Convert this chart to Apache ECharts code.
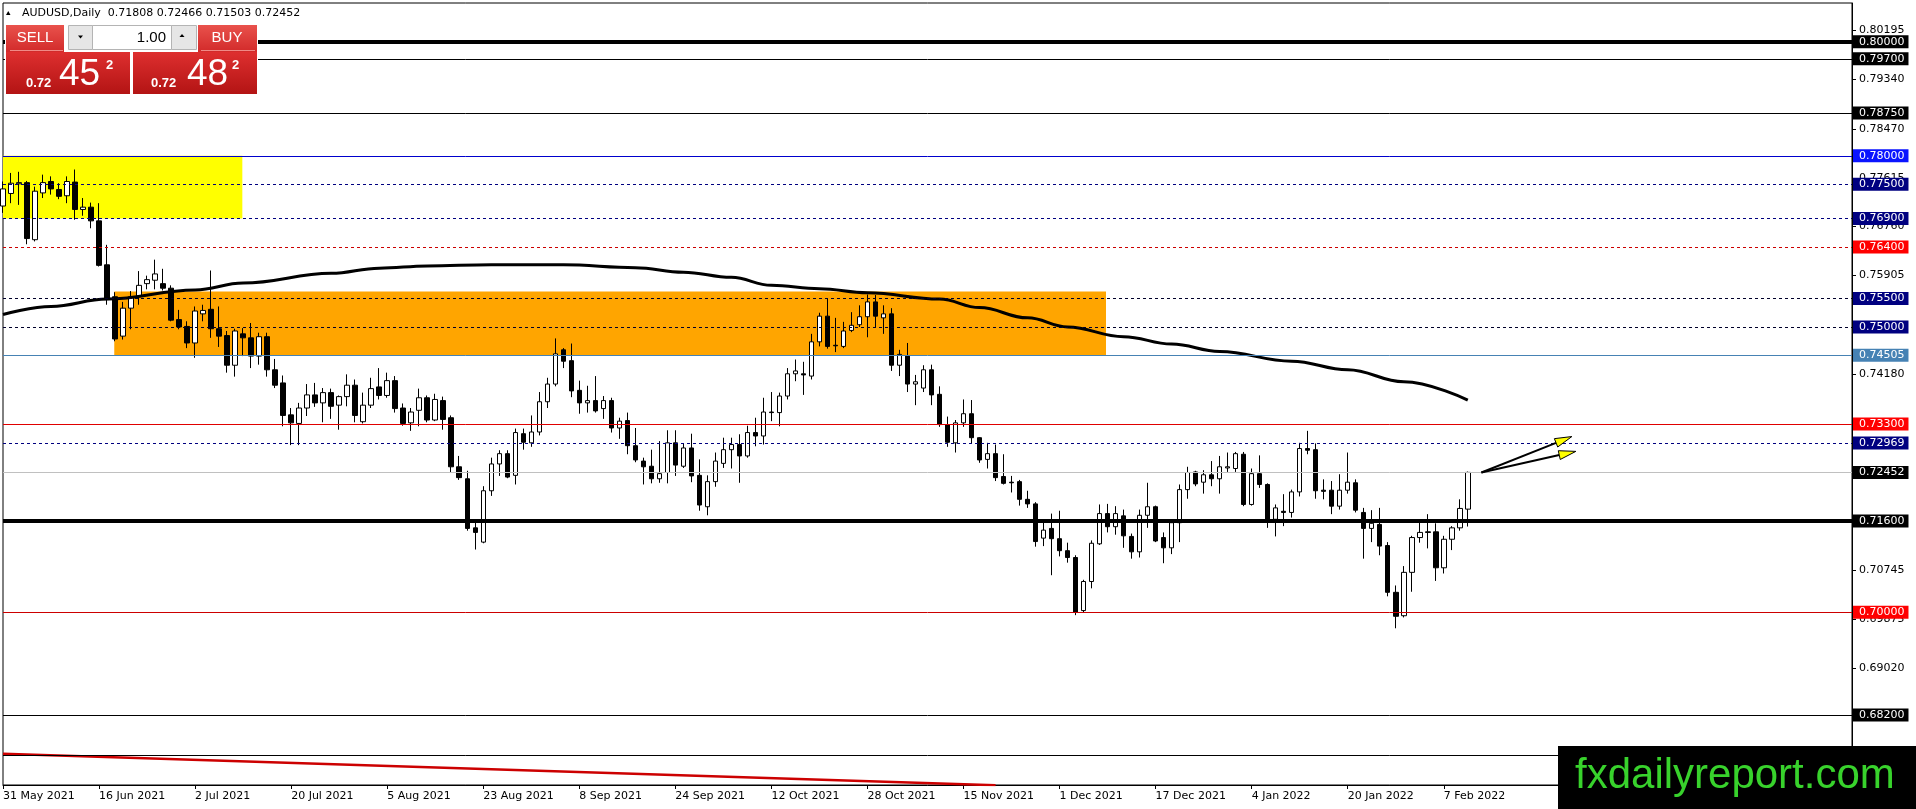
<!DOCTYPE html>
<html><head><meta charset="utf-8">
<script src="https://cdn.jsdelivr.net/npm/echarts@6/dist/echarts.min.js"></script>
<style>html,body{margin:0;padding:0;background:#fff}#c{width:1916px;height:809px}</style>
</head><body><div id="c"></div>
<script>
// ---- data ----
const dateLabels = ['31 May 2021','16 Jun 2021','2 Jul 2021','20 Jul 2021','5 Aug 2021','23 Aug 2021','8 Sep 2021','24 Sep 2021','12 Oct 2021','28 Oct 2021','15 Nov 2021','1 Dec 2021','17 Dec 2021','4 Jan 2022','20 Jan 2022','7 Feb 2022'];
const opens = [
0.7712,0.7734,0.7751,0.7753,0.7653,0.7735,0.7755,0.7741,0.7730,0.7754,
0.7706,0.7710,0.7686,0.7609,0.7553,0.7484,0.7533,0.7554,0.7576,0.7582,
0.7576,0.7568,0.7513,0.7501,0.7472,0.7523,0.7531,0.7497,0.7485,0.7433,
0.7488,0.7481,0.7449,0.7483,0.7425,0.7402,0.7346,0.7331,0.7358,0.7381,
0.7367,0.7385,0.7363,0.7378,0.7398,0.7334,0.7363,0.7395,0.7380,0.7406,
0.7358,0.7332,0.7354,0.7376,0.7337,0.7371,0.7341,0.7255,0.7234,0.7148,
0.7123,0.7213,0.7260,0.7278,0.7240,0.7313,0.7297,0.7316,0.7369,0.7400,
0.7460,0.7441,0.7389,0.7367,0.7371,0.7357,0.7371,0.7323,0.7336,0.7292,
0.7265,0.7256,0.7234,0.7245,0.7297,0.7256,0.7288,0.7240,0.7185,0.7229,
0.7261,0.7285,0.7294,0.7274,0.7315,0.7309,0.7351,0.7350,0.7379,0.7418,
0.7418,0.7414,0.7474,0.7519,0.7468,0.7466,0.7494,0.7504,0.7518,0.7544,
0.7516,0.7523,0.7433,0.7449,0.7400,0.7393,0.7425,0.7382,0.7329,0.7297,
0.7332,0.7348,0.7306,0.7268,0.7278,0.7238,0.7228,0.7229,0.7198,0.7190,
0.7130,0.7147,0.7129,0.7108,0.7096,0.7003,0.7054,0.7120,0.7173,0.7150,
0.7169,0.7133,0.7106,0.7170,0.7185,0.7131,0.7113,0.7157,0.7215,0.7246,
0.7228,0.7241,0.7234,0.7253,0.7252,0.7277,0.7189,0.7243,0.7224,0.7163,
0.7177,0.7175,0.7211,0.7287,0.7285,0.7214,0.7214,0.7186,0.7214,0.7227,
0.7175,0.7147,0.7154,0.7117,0.7035,0.6994,0.7070,0.7131,0.7141,0.7141,
0.7078,0.7128,0.7148,0.71808];
const highs = [
0.7755,0.7770,0.7772,0.7756,0.7746,0.7767,0.7764,0.7752,0.7764,0.7776,
0.7726,0.7718,0.7717,0.7644,0.7561,0.7544,0.7563,0.7598,0.7590,0.7618,
0.7602,0.7573,0.7530,0.7510,0.7536,0.7539,0.7599,0.7536,0.7493,0.7497,
0.7498,0.7507,0.7490,0.7490,0.7444,0.7415,0.7358,0.7367,0.7400,0.7402,
0.7393,0.7392,0.7380,0.7417,0.7408,0.7385,0.7411,0.7428,0.7420,0.7414,
0.7366,0.7358,0.7392,0.7380,0.7383,0.7378,0.7345,0.7274,0.7248,0.7157,
0.7221,0.7271,0.7284,0.7284,0.7322,0.7322,0.7345,0.7386,0.7411,0.7480,
0.7463,0.7471,0.7406,0.7397,0.7414,0.7379,0.7376,0.7341,0.7350,0.7323,
0.7271,0.7285,0.7300,0.7319,0.7319,0.7296,0.7313,0.7268,0.7240,0.7280,
0.7306,0.7306,0.7312,0.7327,0.7341,0.7376,0.7386,0.7385,0.7428,0.7443,
0.7439,0.7488,0.7525,0.7550,0.7516,0.7509,0.7526,0.7538,0.7557,0.7556,
0.7538,0.7533,0.7460,0.7472,0.7416,0.7433,0.7434,0.7396,0.7343,0.7337,
0.7373,0.7372,0.7307,0.7297,0.7294,0.7277,0.7239,0.7232,0.7213,0.7193,
0.7157,0.7173,0.7178,0.7122,0.7100,0.7057,0.7126,0.7189,0.7190,0.7186,
0.7180,0.7138,0.7180,0.7227,0.7187,0.7140,0.7163,0.7224,0.7255,0.7248,
0.7249,0.7265,0.7274,0.7280,0.7281,0.7281,0.7252,0.7275,0.7226,0.7189,
0.7207,0.7215,0.7297,0.7318,0.7296,0.7233,0.7230,0.7242,0.7280,0.7233,
0.7183,0.7179,0.7183,0.7123,0.7047,0.7081,0.7134,0.7158,0.7172,0.7156,
0.7134,0.7151,0.7198,0.72466];
const lows = [
0.7700,0.7717,0.7714,0.7645,0.7650,0.7726,0.7732,0.7724,0.7717,0.7688,
0.7695,0.7673,0.7606,0.7539,0.7475,0.7478,0.7496,0.7539,0.7566,0.7566,
0.7564,0.7510,0.7496,0.7463,0.7446,0.7510,0.7481,0.7465,0.7420,0.7413,
0.7449,0.7428,0.7434,0.7413,0.7393,0.7326,0.7293,0.7293,0.7344,0.7360,
0.7333,0.7339,0.7320,0.7361,0.7333,0.7331,0.7358,0.7373,0.7376,0.7350,
0.7327,0.7318,0.7326,0.7333,0.7335,0.7320,0.7245,0.7232,0.7143,0.7110,
0.7121,0.7204,0.7239,0.7235,0.7224,0.7285,0.7290,0.7310,0.7358,0.7396,
0.7428,0.7377,0.7348,0.7350,0.7350,0.7339,0.7315,0.7304,0.7277,0.7263,
0.7224,0.7226,0.7227,0.7226,0.7239,0.7253,0.7228,0.7178,0.7170,0.7220,
0.7253,0.7252,0.7227,0.7271,0.7291,0.7294,0.7335,0.7326,0.7373,0.7405,
0.7381,0.7408,0.7466,0.7462,0.7456,0.7463,0.7491,0.7500,0.7482,0.7500,
0.7488,0.7423,0.7414,0.7386,0.7363,0.7386,0.7363,0.7325,0.7290,0.7280,
0.7325,0.7296,0.7262,0.7252,0.7230,0.7224,0.7210,0.7187,0.7183,0.7115,
0.7116,0.7065,0.7098,0.7087,0.6995,0.6999,0.7042,0.7118,0.7140,0.7136,
0.7113,0.7094,0.7096,0.7148,0.7123,0.7086,0.7102,0.7123,0.7199,0.7221,
0.7208,0.7221,0.7208,0.7246,0.7246,0.7186,0.7187,0.7218,0.7148,0.7133,
0.7151,0.7166,0.7203,0.7277,0.7199,0.7198,0.7172,0.7180,0.7208,0.7175,
0.7094,0.7123,0.7100,0.7028,0.6972,0.6991,0.7036,0.7122,0.7112,0.7055,
0.7068,0.7109,0.7143,0.71503];
const closes = [
0.7742,0.7752,0.7753,0.7655,0.7738,0.7753,0.7742,0.7729,0.7755,0.7706,
0.7710,0.7686,0.7608,0.7548,0.7479,0.7533,0.7553,0.7573,0.7583,0.7593,
0.7568,0.7512,0.7500,0.7472,0.7528,0.7529,0.7497,0.7484,0.7433,0.7493,
0.7481,0.7449,0.7483,0.7425,0.7398,0.7345,0.7332,0.7358,0.7381,0.7367,
0.7385,0.7361,0.7378,0.7398,0.7345,0.7363,0.7392,0.7380,0.7406,0.7357,
0.7331,0.7351,0.7376,0.7337,0.7373,0.7338,0.7255,0.7236,0.7147,0.7140,
0.7213,0.7260,0.7278,0.7237,0.7315,0.7298,0.7316,0.7369,0.7400,0.7453,
0.7440,0.7388,0.7367,0.7371,0.7353,0.7371,0.7323,0.7335,0.7292,0.7267,
0.7255,0.7234,0.7243,0.7297,0.7258,0.7288,0.7239,0.7188,0.7229,0.7265,
0.7285,0.7294,0.7274,0.7315,0.7309,0.7351,0.7350,0.7379,0.7418,0.7423,
0.7416,0.7474,0.7519,0.7466,0.7467,0.7493,0.7503,0.7518,0.7544,0.7519,
0.7523,0.7433,0.7452,0.7400,0.7404,0.7425,0.7381,0.7329,0.7298,0.7332,
0.7348,0.7306,0.7267,0.7278,0.7236,0.7226,0.7227,0.7198,0.7190,0.7124,
0.7144,0.7129,0.7108,0.7096,0.7000,0.7054,0.7121,0.7173,0.7150,0.7173,
0.7134,0.7106,0.7170,0.7185,0.7125,0.7113,0.7157,0.7215,0.7245,0.7225,
0.7241,0.7234,0.7255,0.7255,0.7278,0.7189,0.7243,0.7224,0.7163,0.7183,
0.7175,0.7211,0.7287,0.7284,0.7213,0.7212,0.7186,0.7214,0.7228,0.7179,
0.7147,0.7156,0.7116,0.7035,0.6993,0.7070,0.7131,0.7140,0.7140,0.7078,
0.7128,0.7148,0.7182,0.72452];
// moving average, read at these bar indices
const maIdx = [0,6,13,24,30,41,47,53,61,70,79,85,91,96,102,108,117,122,128,133,140,146,152,161,168,175,183];
const maVal = [0.7522,0.7536,0.7549,0.7565,0.7577,0.7594,0.7603,0.7607,0.7609,0.7609,0.7604,0.7596,0.7587,0.7573,0.7567,0.7560,0.7549,0.7534,0.7516,0.7500,0.7483,0.7470,0.7457,0.7440,0.7425,0.7404,0.7372];
// long red line at the bottom
const trendIdx = [0, 124];
const trendVal = [0.6752, 0.6697];
// horizontal levels
const levelValues = [0.80000,0.79700,0.78750,0.78000,0.77500,0.76900,0.76400,0.75500,0.75000,0.74505,0.73300,0.72969,0.72452,0.71600,0.70000,0.68200,0.67500];
// price scale tick labels
const yTickValues = [0.80195,0.79340,0.78470,0.77615,0.76760,0.75905,0.74180,0.70745,0.69875,0.69020];
// zones (bar index range, price range)
const zoneX0 = [0, 13.9], zoneX1 = [29.9, 137.8];
const zoneLow = [0.769, 0.74505], zoneHigh = [0.780, 0.7562];
// arrows
const arrowFromIdx = [184.7, 184.7], arrowFromVal = [0.7245, 0.7245];
const arrowToIdx = [196.0, 196.5], arrowToVal = [0.7308, 0.7282];

// ---- styles ----
const levelLineColor = ['#000','#000','#000','#0000cd','#000080','#000080','#cc0000','#00002a','#00002a','#4682b4','#e00000','#000080','#c0c0c0','#000','#cc0000','#000','#000'];
const levelLineWidth = [4,1,1,1,1,1,1,1,1,1,1,1,1,4,1,1,1];
const levelDashed    = [0,0,0,0,1,1,1,1,1,0,0,1,0,0,0,0,0];
const levelBoxColor  = ['#000','#000','#000','#0a14ff','#000080','#000080','#ff0000','#000080','#000080','#4682b4','#ff0000','#000080','#000','#000','#ff0000','#000','#000'];
const zoneColor = ['#ffff00', '#ffa500'];
const FONT = '"DejaVu Sans", Tahoma, sans-serif';
const slotCount = 232, barsPerLabel = 12;

const cats = [];
for (let i = 0; i < slotCount; i++) cats.push(String(i));
const candleData = opens.map((o, i) => [o, closes[i], lows[i], highs[i]]);
const maData = maIdx.map((x, i) => [x, maVal[i]]);
const trendData = trendIdx.map((x, i) => [x, trendVal[i]]);
const zoneData = zoneX0.map((x, i) => [x, zoneLow[i], zoneX1[i], zoneHigh[i]]);
const arrowData = arrowFromIdx.map((x, i) => [x, arrowFromVal[i], arrowToIdx[i], arrowToVal[i]]);

function px(api, xv, yv) {
  const i0 = Math.floor(xv), f = xv - i0;
  const a = api.coord([i0, yv]), b = api.coord([i0 + 1, yv]);
  return [a[0] + (b[0] - a[0]) * f, a[1]];
}
const showLabel = (idx) => idx % barsPerLabel === 0 && idx / barsPerLabel < dateLabels.length;

const chart = echarts.init(document.getElementById('c'), null, {renderer: 'canvas'});
const redGrad = (a, b) => ({type: 'linear', x: 0, y: 0, x2: 0, y2: 1, colorStops: [{offset: 0, color: a}, {offset: 1, color: b}]});

chart.setOption({
  animation: false,
  backgroundColor: '#fff',
  grid: {left: 3, right: 64, top: 3, bottom: 24, show: true, borderColor: '#000', borderWidth: 1, backgroundColor: '#fff'},
  xAxis: {
    type: 'category', data: cats, boundaryGap: false,
    axisLine: {show: true, lineStyle: {color: '#000', width: 1}},
    axisTick: {show: true, length: 4, interval: (idx) => showLabel(idx), lineStyle: {color: '#000'}},
    axisLabel: {interval: (idx) => showLabel(idx), formatter: (v, idx) => dateLabels[idx / barsPerLabel] || '',
      align: 'left', margin: 6, color: '#000', fontSize: 11, fontFamily: FONT},
    splitLine: {show: false}
  },
  yAxis: {
    type: 'value', position: 'right', min: 0.669733, max: 0.806782,
    splitLine: {show: false},
    axisLine: {show: true, lineStyle: {color: '#000'}},
    axisTick: {show: true, length: 4, customValues: yTickValues, lineStyle: {color: '#000'}},
    axisLabel: {customValues: yTickValues, formatter: (v) => v.toFixed(5), color: '#000', fontSize: 11, fontFamily: FONT, margin: 7}
  },
  series: [
    {
      type: 'custom', name: 'zones', z: 1, clip: true, silent: true,
      dimensions: [{name: 'x0', type: 'float'}, {name: 'y0', type: 'float'}, {name: 'x1', type: 'float'}, {name: 'y1', type: 'float'}],
      encode: {x: [0, 2], y: [1, 3]},
      data: zoneData,
      renderItem: (params, api) => {
        const p0 = px(api, api.value(0), api.value(1));
        const p1 = px(api, api.value(2), api.value(3));
        return {type: 'rect', shape: {x: p0[0], y: p1[1], width: p1[0] - p0[0], height: p0[1] - p1[1]},
          style: {fill: zoneColor[params.dataIndex]}};
      }
    },
    {
      type: 'candlestick', name: 'AUDUSD', z: 2, data: candleData, barWidth: 5, silent: true,
      itemStyle: {color: '#fff', color0: '#000', borderColor: '#000', borderColor0: '#000', borderColorDoji: '#000', borderWidth: 1}
    },
    {
      type: 'line', name: 'MA', z: 3, data: maData, smooth: 0.4, smoothMonotone: 'x', showSymbol: false, silent: true,
      lineStyle: {color: '#000', width: 3}
    },
    {
      type: 'line', name: 'trend', z: 4, data: trendData, showSymbol: false, silent: true,
      lineStyle: {color: '#cc0000', width: 2.5},
      markLine: {
        silent: true, symbol: ['none', 'none'], animation: false, precision: 5,
        data: levelValues.map((v, i) => ({
          yAxis: v,
          lineStyle: {color: levelLineColor[i], width: levelLineWidth[i], type: levelDashed[i] ? [3, 3] : 'solid'},
          label: {show: true, position: 'end', distance: 1, formatter: v.toFixed(5), color: '#fff',
            backgroundColor: levelBoxColor[i], padding: [1, 4, 0, 6], fontSize: 11, lineHeight: 12, fontFamily: FONT}
        }))
      }
    },
    {
      type: 'custom', name: 'arrows', z: 6, silent: true, clip: false,
      dimensions: [{name: 'x0', type: 'float'}, {name: 'y0', type: 'float'}, {name: 'x1', type: 'float'}, {name: 'y1', type: 'float'}],
      encode: {x: [0, 2], y: [1, 3]},
      data: arrowData,
      renderItem: (params, api) => {
        const p0 = px(api, api.value(0), api.value(1));
        const p1 = px(api, api.value(2), api.value(3));
        const ang = Math.atan2(p1[1] - p0[1], p1[0] - p0[0]);
        const L = 17, W = 4.5;
        const bx = p1[0] - L * Math.cos(ang), by = p1[1] - L * Math.sin(ang);
        const nx = -Math.sin(ang) * W, ny = Math.cos(ang) * W;
        return {type: 'group', children: [
          {type: 'line', shape: {x1: p0[0], y1: p0[1], x2: bx, y2: by}, style: {stroke: '#000', lineWidth: 2}},
          {type: 'polygon', shape: {points: [[p1[0], p1[1]], [bx + nx, by + ny], [bx - nx, by - ny]]}, style: {fill: '#ffff00', stroke: '#000', lineWidth: 1}}
        ]};
      }
    }
  ],
  graphic: [
    // title
    {type: 'polygon', z: 100, shape: {points: [[6, 15], [10.5, 15], [8.25, 11]]}, style: {fill: '#000'}},
    {type: 'text', z: 100, x: 22, y: 13, style: {text: 'AUDUSD,Daily  0.71808 0.72466 0.71503 0.72452', font: '11px ' + FONT, fill: '#000', align: 'left', verticalAlign: 'middle'}},
    // one-click trading panel
    {type: 'rect', z: 100, shape: {x: 5, y: 24, width: 253, height: 71}, style: {fill: '#fff'}},
    {type: 'rect', z: 101, shape: {x: 6, y: 25, width: 58, height: 27}, style: {fill: redGrad('#e9524c', '#d22a2a')}},
    {type: 'line', z: 102, shape: {x1: 10, y1: 50.5, x2: 63, y2: 50.5}, style: {stroke: '#f08a86', lineWidth: 1}},
    {type: 'text', z: 102, x: 35, y: 38, style: {text: 'SELL', font: '15px "Liberation Sans", Arial, sans-serif', fill: '#fff', align: 'center', verticalAlign: 'middle'}},
    {type: 'rect', z: 101, shape: {x: 68.5, y: 25.5, width: 24, height: 24}, style: {fill: '#e6e6e6', stroke: '#b4b4b4', lineWidth: 1}},
    {type: 'polygon', z: 102, shape: {points: [[78, 35.5], [83, 35.5], [80.5, 38.5]]}, style: {fill: '#000'}},
    {type: 'rect', z: 101, shape: {x: 92.5, y: 25.5, width: 79, height: 24}, style: {fill: '#fff', stroke: '#b4b4b4', lineWidth: 1}},
    {type: 'text', z: 102, x: 166, y: 37.5, style: {text: '1.00', font: '15px "Liberation Sans", Arial, sans-serif', fill: '#000', align: 'right', verticalAlign: 'middle'}},
    {type: 'rect', z: 101, shape: {x: 171.5, y: 25.5, width: 25, height: 24}, style: {fill: '#e6e6e6', stroke: '#b4b4b4', lineWidth: 1}},
    {type: 'polygon', z: 102, shape: {points: [[179.5, 37], [184.5, 37], [182, 34]]}, style: {fill: '#000'}},
    {type: 'rect', z: 101, shape: {x: 198, y: 25, width: 59, height: 27}, style: {fill: redGrad('#e9524c', '#d22a2a')}},
    {type: 'line', z: 102, shape: {x1: 201, y1: 50.5, x2: 255, y2: 50.5}, style: {stroke: '#f08a86', lineWidth: 1}},
    {type: 'text', z: 102, x: 227, y: 38, style: {text: 'BUY', font: '15px "Liberation Sans", Arial, sans-serif', fill: '#fff', align: 'center', verticalAlign: 'middle'}},
    {type: 'rect', z: 101, shape: {x: 6, y: 52, width: 124, height: 42}, style: {fill: redGrad('#de2f2f', '#b31414')}},
    {type: 'rect', z: 101, shape: {x: 133, y: 52, width: 124, height: 42}, style: {fill: redGrad('#de2f2f', '#b31414')}},
    {type: 'text', z: 102, x: 26, y: 83, style: {text: '0.72', font: 'bold 13px "Liberation Sans", Arial, sans-serif', fill: '#fff', align: 'left', verticalAlign: 'middle'}},
    {type: 'text', z: 102, x: 59, y: 74.5, style: {text: '45', font: '37px "Liberation Sans", Arial, sans-serif', fill: '#fff', align: 'left', verticalAlign: 'middle'}},
    {type: 'text', z: 102, x: 106, y: 65.5, style: {text: '2', font: 'bold 13px "Liberation Sans", Arial, sans-serif', fill: '#fff', align: 'left', verticalAlign: 'middle'}},
    {type: 'text', z: 102, x: 151, y: 83, style: {text: '0.72', font: 'bold 13px "Liberation Sans", Arial, sans-serif', fill: '#fff', align: 'left', verticalAlign: 'middle'}},
    {type: 'text', z: 102, x: 187, y: 74.5, style: {text: '48', font: '37px "Liberation Sans", Arial, sans-serif', fill: '#fff', align: 'left', verticalAlign: 'middle'}},
    {type: 'text', z: 102, x: 232, y: 65.5, style: {text: '2', font: 'bold 13px "Liberation Sans", Arial, sans-serif', fill: '#fff', align: 'left', verticalAlign: 'middle'}},
    // watermark
    {type: 'rect', z: 100, shape: {x: 1558, y: 746, width: 358, height: 63}, style: {fill: '#000'}},
    {type: 'text', z: 101, x: 1575, y: 776, style: {text: 'fxdailyreport.com', font: '42px "Liberation Sans", Arial, sans-serif', fill: '#38d22c', align: 'left', verticalAlign: 'middle'}}
  ]
});
</script>
</body></html>
